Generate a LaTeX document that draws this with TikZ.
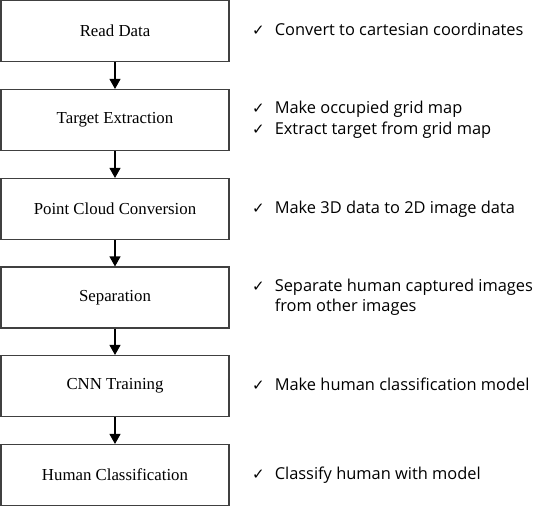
\documentclass[tikz,border=0pt]{standalone}
\usepackage{fontspec}
\setmainfont{Liberation Serif}
\newfontfamily\notefont{Open Sans}
\newfontfamily\tickfont{DejaVu Sans}
\usetikzlibrary{arrows.meta}
\definecolor{boxLineColor}{HTML}{404040}
\definecolor{arrowColor}{HTML}{000000}
\definecolor{noteTextColor}{HTML}{000000}
\def\textA{Read Data}
\def\textB{Target Extraction}
\def\textC{Point Cloud Conversion}
\def\textD{Separation}
\def\textE{CNN Training}
\def\textF{Human Classification}
\newcommand{\tick}{{\tickfont\fontsize{15bp}{15bp}\selectfont ✓}}

\begin{document}
\begin{tikzpicture}[x=1bp,y=-1bp]
\tikzset{
stepbox/.style={draw=boxLineColor, line width=1.1bp, minimum width=228bp,
minimum height=61bp, inner sep=0pt, font=\fontsize{16.8bp}{20bp}\selectfont},
note/.style={anchor=west, inner sep=0pt, text=noteTextColor, align=left,
font=\notefont\fontsize{16.4bp}{20.5bp}\selectfont},
flow/.style={draw=arrowColor, line width=1.1bp, -{Triangle[width=11bp,length=10bp]}}
}
\useasboundingbox (0, 0) rectangle (533, 507);

% boxes
\begin{scope}
\node[stepbox] (read) at (115, 31) {\textA};
\node[stepbox] (target) at (115, 120) {\textB};
\node[stepbox] (cloud) at (115, 209) {\textC};
\node[stepbox] (separate) at (115, 297.5) {\textD};
\node[stepbox] (train) at (115, 386) {\textE};
\node[stepbox] (classify) at (115, 475) {\textF};
\end{scope}

% arrows
\begin{scope}
\draw[flow] (read.south) -- (target.north);
\draw[flow] (target.south) -- (cloud.north);
\draw[flow] (cloud.south) -- (separate.north);
\draw[flow] (separate.south) -- (train.north);
\draw[flow] (train.south) -- (classify.north);
\end{scope}

% notes
\begin{scope}
\node[note] (readNote) at (252, 31) {\begin{tabular}{@{}l@{\hspace{10bp}}l@{}}
\tick & Convert to cartesian coordinates\end{tabular}};
\node[note] (targetNote) at (252, 120) {\begin{tabular}{@{}l@{\hspace{10bp}}l@{}}
\tick & Make occupied grid map\\
\tick & Extract target from grid map\end{tabular}};
\node[note] (cloudNote) at (252, 209) {\begin{tabular}{@{}l@{\hspace{10bp}}l@{}}
\tick & Make 3D data to 2D image data\end{tabular}};
\node[note] (separateNote) at (252, 297.5) {\begin{tabular}{@{}l@{\hspace{10bp}}l@{}}
\tick & Separate human captured images\\
 & from other images\end{tabular}};
\node[note] (trainNote) at (252, 386) {\begin{tabular}{@{}l@{\hspace{10bp}}l@{}}
\tick & Make human classification model\end{tabular}};
\node[note] (classifyNote) at (252, 475) {\begin{tabular}{@{}l@{\hspace{10bp}}l@{}}
\tick & Classify human with model\end{tabular}};
\end{scope}
\end{tikzpicture}
\end{document}
